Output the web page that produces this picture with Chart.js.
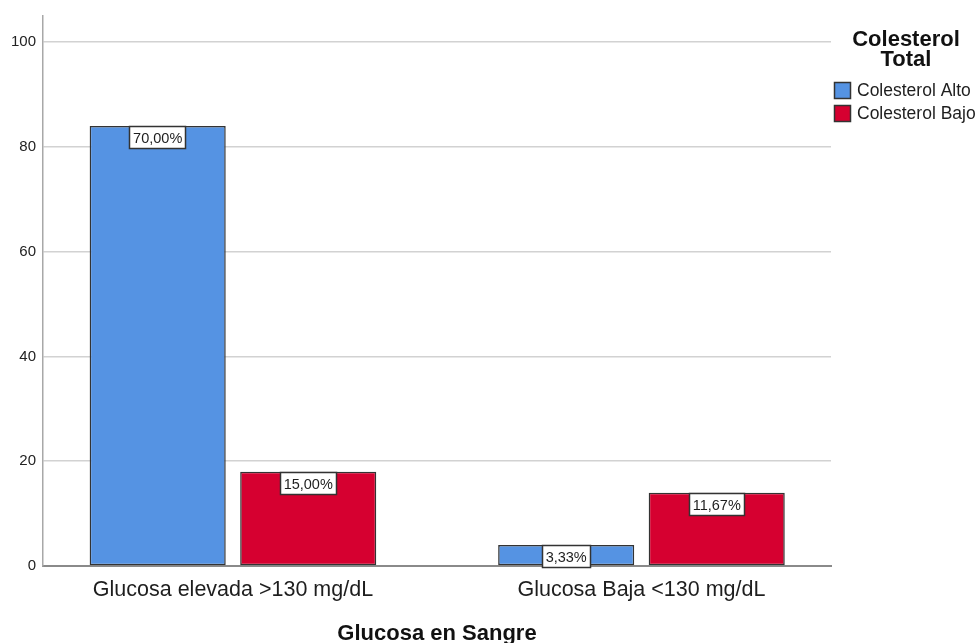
<!DOCTYPE html>
<html lang="es">
<head>
<meta charset="utf-8">
<title>Glucosa en Sangre</title>
<script src="https://cdn.jsdelivr.net/npm/chart.js@4/dist/chart.umd.min.js"></script>
<style>
  html, body { margin: 0; padding: 0; background: #fff; }
  canvas { display: block; }
</style>
</head>
<body>
<canvas id="glucoseChart" width="980" height="643"></canvas>
<script>
// Counts per glucose group, split by total cholesterol
const categories = ['Glucosa elevada >130 mg/dL', 'Glucosa Baja <130 mg/dL'];
const seriesNames = ['Colesterol Alto', 'Colesterol Bajo'];
const colesterolAlto = [84, 4];
const colesterolBajo = [18, 14];
const yTicks = [0, 20, 40, 60, 80, 100];
const legendTitle = ['Colesterol', 'Total'];
const xTitle = 'Glucosa en Sangre';

const FONT = '"Liberation Sans", Arial, Helvetica, sans-serif';
const total = [...colesterolAlto, ...colesterolBajo].reduce((a, b) => a + b, 0);

// percentage of all cases, Spanish decimal comma
function pctLabel(v) {
  return (v / total * 100).toFixed(2).replace('.', ',') + '%';
}

// white boxed percentage at the top of each bar
const barLabels = {
  id: 'barLabels',
  afterDatasetsDraw(chart) {
    const ctx = chart.ctx;
    ctx.save();
    ctx.font = '14.5px ' + FONT;
    ctx.textAlign = 'center';
    ctx.textBaseline = 'middle';
    chart.data.datasets.forEach((ds, di) => {
      chart.getDatasetMeta(di).data.forEach((bar, i) => {
        const txt = pctLabel(ds.data[i].y);
        const w = Math.round(ctx.measureText(txt).width + 8);
        const h = 23;
        const x = Math.round(bar.x - w / 2);
        const y = Math.round(bar.y);
        ctx.fillStyle = '#fff';
        ctx.fillRect(x, y, w, h);
        ctx.strokeStyle = '#333';
        ctx.lineWidth = 1.5;
        ctx.strokeRect(x + 0.5, y + 0.5, w - 1, h - 1);
        ctx.fillStyle = '#1e1e1e';
        ctx.fillText(txt, bar.x, y + h / 2 + 1);
      });
    });
    ctx.restore();
  }
};

// legend on the right, with a two-line bold title
const sideLegend = {
  id: 'sideLegend',
  afterDraw(chart) {
    const ctx = chart.ctx;
    const left = chart.chartArea.right + 3;
    ctx.save();
    ctx.fillStyle = '#111';
    ctx.textAlign = 'center';
    ctx.textBaseline = 'alphabetic';
    ctx.font = 'bold 22px ' + FONT;
    legendTitle.forEach((line, i) => ctx.fillText(line, left + 72, 46 + i * 19.5));

    ctx.textAlign = 'left';
    ctx.textBaseline = 'middle';
    ctx.font = '17.5px ' + FONT;
    chart.data.datasets.forEach((ds, i) => {
      const y = 82 + i * 23;
      ctx.fillStyle = ds.backgroundColor;
      ctx.fillRect(left, y, 17, 17);
      ctx.strokeStyle = '#333';
      ctx.lineWidth = 1.5;
      ctx.strokeRect(left + 0.5, y + 0.5, 16, 16);
      ctx.fillStyle = '#1e1e1e';
      ctx.fillText(ds.label, left + 23, y + 9);
    });
    ctx.restore();
  }
};

new Chart(document.getElementById('glucoseChart'), {
  type: 'bar',
  data: {
    datasets: [
      {
        label: seriesNames[0],
        data: colesterolAlto.map((v, i) => ({ x: i, y: v })),
        backgroundColor: '#5593e3',
        borderColor: '#333',
        borderWidth: 1.5,
        borderSkipped: false
      },
      {
        label: seriesNames[1],
        data: colesterolBajo.map((v, i) => ({ x: i, y: v })),
        backgroundColor: '#d60030',
        borderColor: '#333',
        borderWidth: 1.5,
        borderSkipped: false
      }
    ]
  },
  options: {
    responsive: false,
    animation: false,
    devicePixelRatio: 1,
    categoryPercentage: 0.737,
    barPercentage: 0.904,
    layout: { padding: { top: 15, right: 149, left: 0, bottom: 0 } },
    plugins: {
      legend: { display: false },
      tooltip: { enabled: false }
    },
    scales: {
      x: {
        type: 'linear',
        offset: false,
        min: -0.465,
        max: 1.464,
        afterBuildTicks: s => { s.ticks = categories.map((c, i) => ({ value: i })); },
        afterFit: s => { s.height = 77; },
        grid: { display: false, drawTicks: false, offset: false },
        border: { color: '#8a8a8a', width: 2 },
        ticks: {
          callback: v => categories[v],
          color: '#1e1e1e',
          font: { family: FONT, size: 21.5 },
          padding: 11,
          maxRotation: 0,
          autoSkip: false
        },
        title: {
          display: true,
          text: xTitle,
          color: '#111',
          font: { family: FONT, size: 22, weight: 'bold' },
          padding: { top: 0, bottom: -4 }
        }
      },
      y: {
        min: 0,
        max: 105,
        afterBuildTicks: s => { s.ticks = yTicks.map(v => ({ value: v })); },
        afterFit: s => { s.width = 43; },
        grid: {
          drawTicks: false,
          color: ctx => ctx.tick && ctx.tick.value === 0 ? 'rgba(0,0,0,0)' : '#d2d2d2',
          lineWidth: 1.5
        },
        border: { color: '#a8a8a8', width: 1.5 },
        ticks: {
          color: '#222',
          font: { family: FONT, size: 15 },
          padding: 7
        }
      }
    }
  },
  plugins: [barLabels, sideLegend]
});
</script>
</body>
</html>
